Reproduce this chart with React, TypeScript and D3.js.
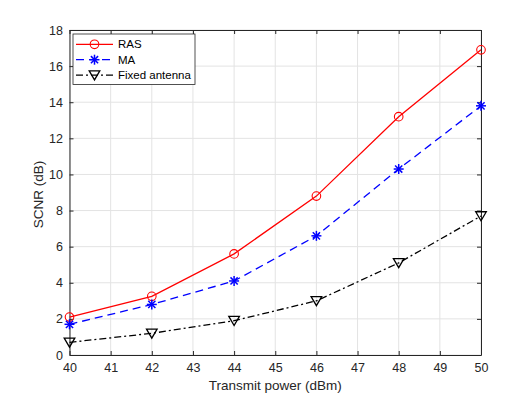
import React, { useEffect, useRef } from 'react';
import * as d3 from 'd3';

// transmit power (dBm)
const power = [40, 42, 44, 46, 48, 50];
const ras = [2.1, 3.25, 5.6, 8.8, 13.2, 16.9];
const ma = [1.7, 2.8, 4.1, 6.6, 10.3, 13.8];
const fixedAnt = [0.7, 1.2, 1.9, 3.0, 5.1, 7.7];

const xTicks = [40, 41, 42, 43, 44, 45, 46, 47, 48, 49, 50];
const yTicks = [0, 2, 4, 6, 8, 10, 12, 14, 16, 18];
const seriesNames = ['RAS', 'MA', 'Fixed antenna'];

const W = 532;
const H = 399;
const margin = { top: 30, right: 51, bottom: 44, left: 69.5 };

const App = () => {
  const svgRef = useRef<SVGSVGElement>(null);

  useEffect(() => {
    const svg = d3.select(svgRef.current);
    svg.selectAll('*').remove();

    const width = W - margin.left - margin.right;
    const height = H - margin.top - margin.bottom;
    const font = 'Liberation Sans, Arial, sans-serif';
    const axisColor = '#262626';

    const x = d3.scaleLinear().domain([40, 50]).range([0, width]);
    const y = d3.scaleLinear().domain([0, 18]).range([height, 0]);

    const g = svg.append('g').attr('transform', `translate(${margin.left},${margin.top})`);

    g.append('rect').attr('width', width).attr('height', height).attr('fill', '#fff');

    // grid
    g.selectAll('.gx').data(xTicks).enter().append('line')
      .attr('x1', d => x(d)).attr('x2', d => x(d)).attr('y1', 0).attr('y2', height)
      .attr('stroke', '#e3e3e3').attr('stroke-width', 1);
    g.selectAll('.gy').data(yTicks).enter().append('line')
      .attr('y1', d => y(d)).attr('y2', d => y(d)).attr('x1', 0).attr('x2', width)
      .attr('stroke', '#e3e3e3').attr('stroke-width', 1);

    // axes (ticks inside, box)
    const bottom = g.append('g').attr('transform', `translate(0,${height})`)
      .call(d3.axisBottom(x).tickValues(xTicks).tickSizeInner(-4).tickSizeOuter(0).tickPadding(8));
    const left = g.append('g')
      .call(d3.axisLeft(y).tickValues(yTicks).tickSizeInner(-4).tickSizeOuter(0).tickPadding(6.5));
    const top = g.append('g')
      .call(d3.axisTop(x).tickValues(xTicks).tickSizeInner(-4).tickSizeOuter(0).tickFormat(() => ''));
    const right = g.append('g').attr('transform', `translate(${width},0)`)
      .call(d3.axisRight(y).tickValues(yTicks).tickSizeInner(-4).tickSizeOuter(0).tickFormat(() => ''));

    [bottom, left, top, right].forEach(a => {
      a.select('.domain').attr('stroke', axisColor).attr('stroke-width', 1);
      a.selectAll('.tick line').attr('stroke', axisColor);
      a.selectAll('.tick text').attr('fill', axisColor).style('font-family', font).style('font-size', '12.5px');
    });

    const line = d3.line<number>().x((_, i) => x(power[i])).y(d => y(d));

    const series = [
      { vals: ras, color: '#ff0000', dash: null as string | null, marker: 'circle' },
      { vals: ma, color: '#0000ff', dash: '8,5', marker: 'star' },
      { vals: fixedAnt, color: '#000000', dash: '7,3,2,3', marker: 'tri' },
    ];

    const drawMarker = (sel: any, kind: string, color: string, cx: number, cy: number) => {
      if (kind === 'circle') {
        sel.append('circle').attr('cx', cx).attr('cy', cy).attr('r', 4.3)
          .attr('fill', 'none').attr('stroke', color).attr('stroke-width', 1.1);
      } else if (kind === 'star') {
        const r = 5;
        const p = sel.append('g').attr('transform', `translate(${cx},${cy})`)
          .attr('stroke', color).attr('stroke-width', 1.5);
        p.append('line').attr('x1', -r).attr('x2', r).attr('y1', 0).attr('y2', 0);
        p.append('line').attr('x1', 0).attr('x2', 0).attr('y1', -r).attr('y2', r);
        const k = r * 0.72;
        p.append('line').attr('x1', -k).attr('x2', k).attr('y1', -k).attr('y2', k);
        p.append('line').attr('x1', -k).attr('x2', k).attr('y1', k).attr('y2', -k);
      } else {
        const s = 5.3;
        sel.append('path')
          .attr('d', `M${cx - s},${cy - s * 0.8}L${cx + s},${cy - s * 0.8}L${cx},${cy + s * 0.9}Z`)
          .attr('fill', 'none').attr('stroke', color).attr('stroke-width', 1.3);
      }
    };

    series.forEach(s => {
      g.append('path').datum(s.vals).attr('d', line)
        .attr('fill', 'none').attr('stroke', s.color).attr('stroke-width', 1.3)
        .attr('stroke-dasharray', s.dash);
      s.vals.forEach((v, i) => drawMarker(g, s.marker, s.color, x(power[i]), y(v)));
    });

    // legend
    const lg = g.append('g').attr('transform', 'translate(3.5,4)');
    lg.append('rect').attr('width', 122).attr('height', 50.5)
      .attr('fill', '#fff').attr('stroke', axisColor).attr('stroke-width', 0.8);
    series.forEach((s, i) => {
      const ly = 10.3 + i * 15.4;
      lg.append('line').attr('x1', 3).attr('x2', 40).attr('y1', ly).attr('y2', ly)
        .attr('stroke', s.color).attr('stroke-width', 1.3).attr('stroke-dasharray', s.dash);
      drawMarker(lg, s.marker, s.color, 21.5, ly);
      lg.append('text').attr('x', 45).attr('y', ly + 4).text(seriesNames[i])
        .attr('fill', '#000').style('font-family', font).style('font-size', '11.5px');
    });

    // axis labels
    svg.append('text').attr('x', margin.left + width / 2).attr('y', 390)
      .attr('text-anchor', 'middle').attr('fill', axisColor)
      .style('font-family', font).style('font-size', '13.5px').text('Transmit power (dBm)');
    svg.append('text')
      .attr('transform', `translate(42.5,${margin.top + height / 2 + 2}) rotate(-90)`)
      .attr('text-anchor', 'middle').attr('fill', axisColor)
      .style('font-family', font).style('font-size', '13.5px').text('SCNR (dB)');
  }, []);

  return (
    <svg ref={svgRef} width={W} height={H}
      style={{ position: 'fixed', left: 0, top: 0, display: 'block', background: '#fff' }}></svg>
  );
};

export default App;
